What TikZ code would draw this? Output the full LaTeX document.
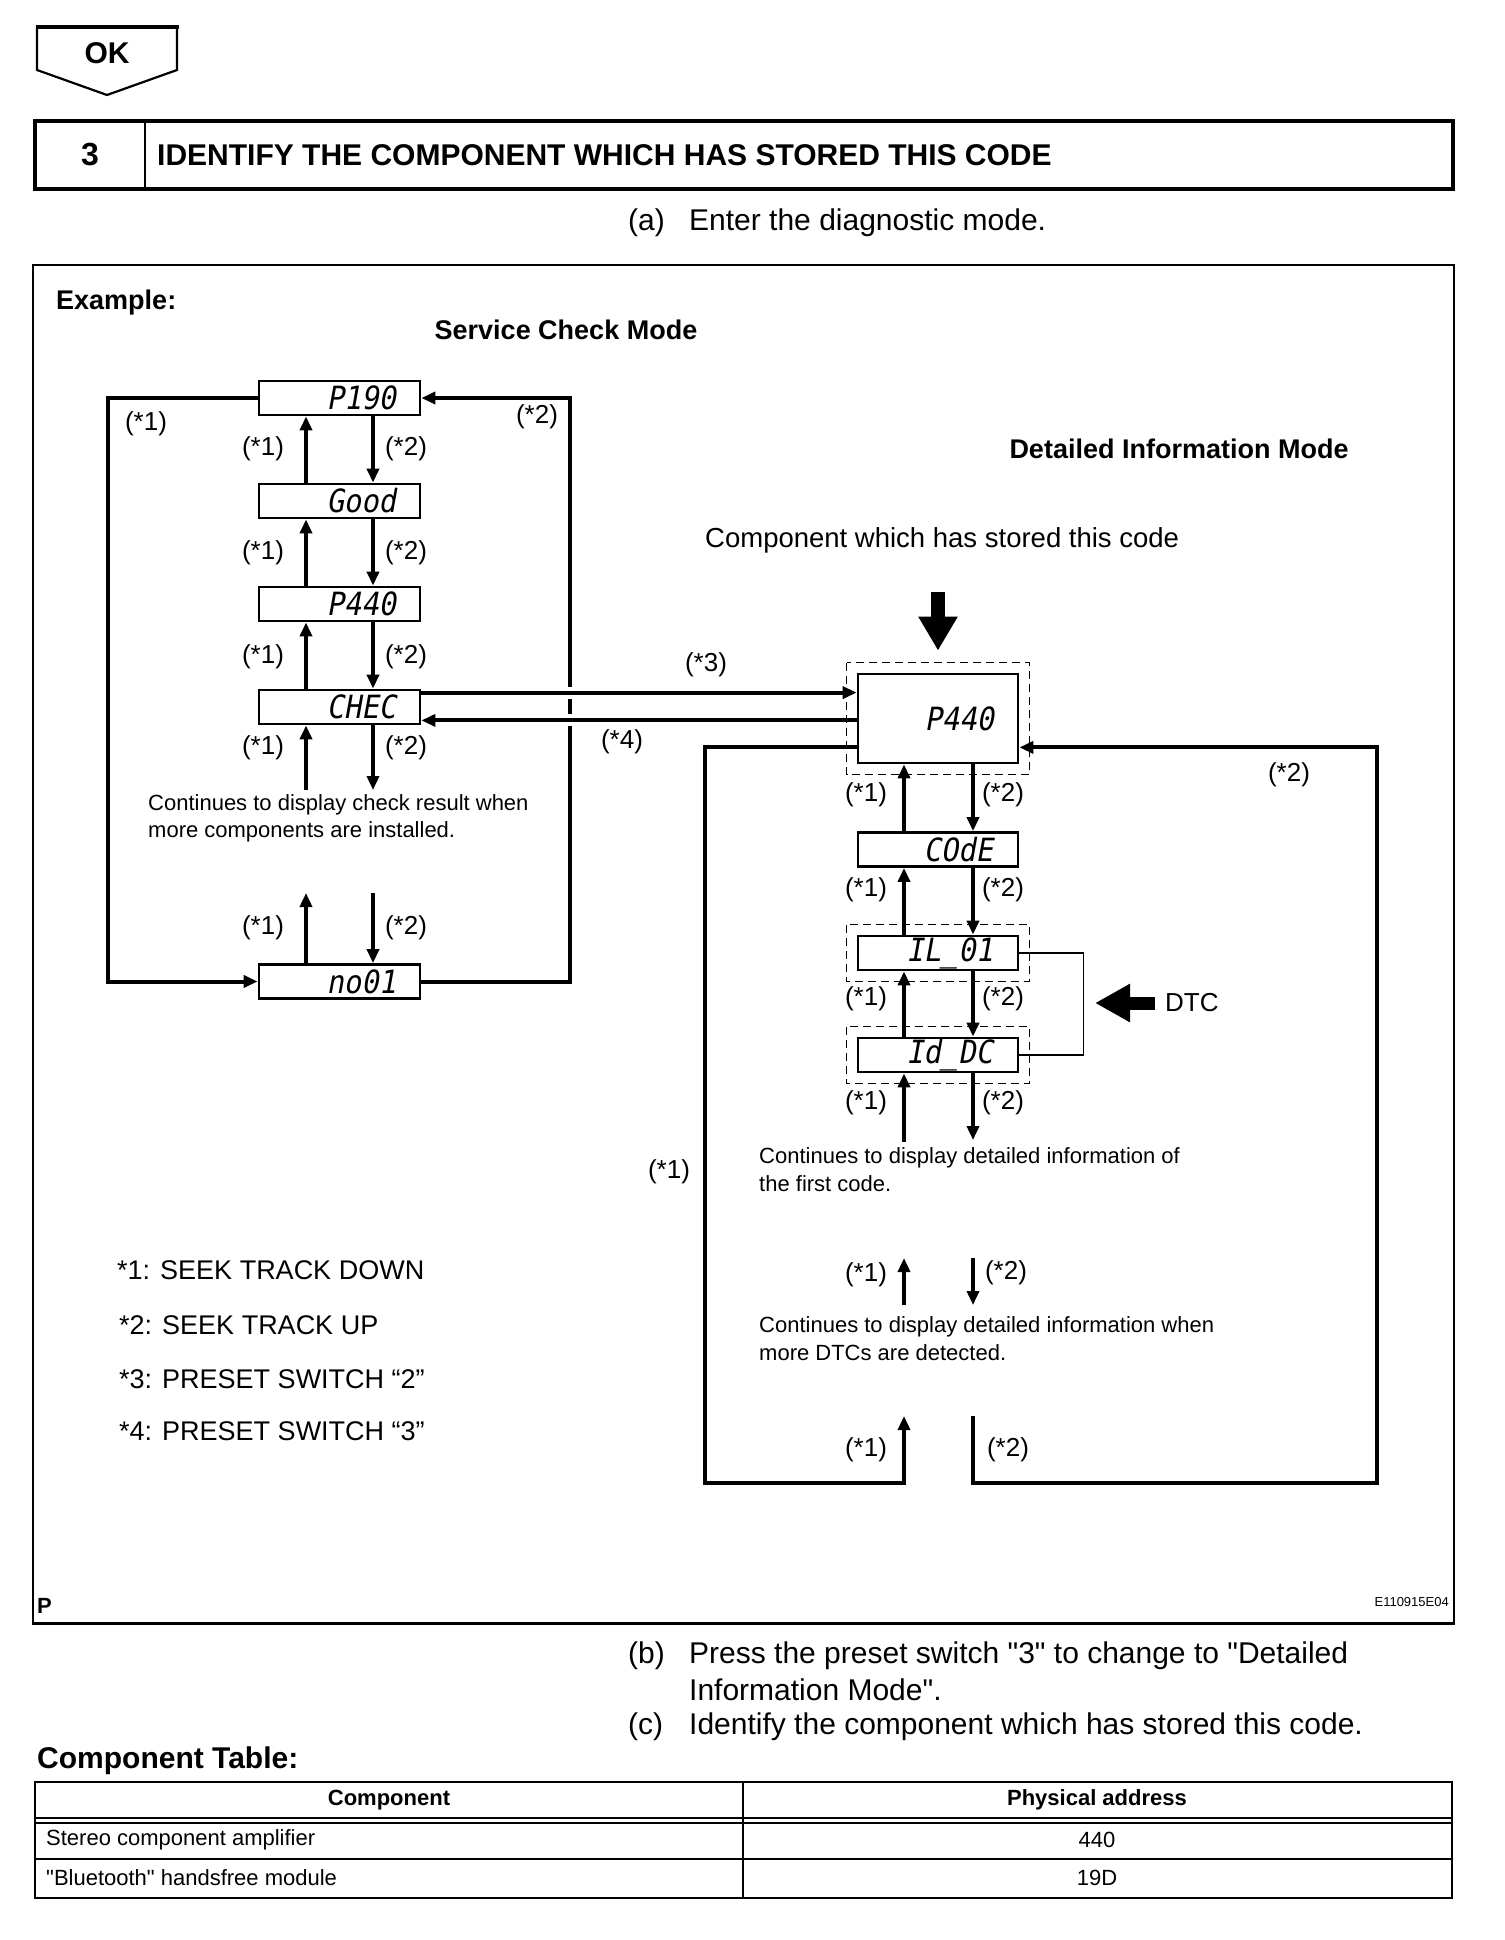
\documentclass[tikz,border=0pt]{standalone}
\usepackage{fontspec}
\setmainfont{Liberation Sans}
\newfontfamily\qfont{Liberation Sans}
\newfontfamily\lcdfont{DejaVu Sans Mono}[FakeSlant=0.18,FakeStretch=0.9]
\usetikzlibrary{arrows.meta,calc}
\newcommand\fsz[1]{\fontsize{#1pt}{#1pt}\selectfont}
\newcommand\dq{{\qfont\symbol{34}}}
\begin{document}
\begin{tikzpicture}[x=1pt,y=-1pt,
  lcdbox/.style={draw, line width=2.8pt, minimum height=34pt, inner ysep=0pt, inner xsep=24pt, text width=113pt, align=right, font=\lcdfont\fsz{32}},
  rbox/.style={lcdbox, inner xsep=25pt, text width=110pt},
  bigbox/.style={lcdbox, minimum height=89pt, text width=112pt},
  conn/.style={line width=4pt, line join=miter},
  arr/.style={conn, -{Triangle[length=14pt,width=12pt]}},
  dashbox/.style={draw, line width=1.6pt, dash pattern=on 8pt off 5pt},
  lbl/.style={inner sep=0pt, font=\fsz{26}},
  txt/.style={inner sep=0pt, anchor=west, font=\fsz{22}},
  big/.style={inner sep=0pt, anchor=west, font=\fsz{30}},
  head/.style={inner sep=0pt, font=\bfseries\fsz{27}},
  legend/.style={inner sep=0pt, anchor=west, font=\fsz{27}},
  tbl/.style={inner sep=0pt, font=\fsz{22}}
]
\useasboundingbox (0,0) rectangle (1504,1940);
\fill[white] (0,0) rectangle (1504,1940);

% ---- OK marker
\draw[line width=2.2pt, line join=miter] (37,27) -- (37,70) -- (107,95) -- (177,70) -- (177,27);
\draw[line width=3.5pt] (35.5,27) -- (178.5,27);
\node[inner sep=0pt, font=\bfseries\fsz{30}] (ok) at (107,53) {OK};

% ---- step header
\draw[line width=3.5pt] (35,121) rectangle (1453,189);
\draw[line width=2pt] (145,121) -- (145,189);
\node[inner sep=0pt, font=\bfseries\fsz{32}] (stepnum) at (90,155) {3};
\node[inner sep=0pt, anchor=west, font=\bfseries\fsz{30}] (title) at (157,155) {IDENTIFY THE COMPONENT WHICH HAS STORED THIS CODE};

\node[big] (a1) at (628,223) {(a)};
\node[big] (a2) at (689,223) {Enter the diagnostic mode.};

% ---- frame
\draw[line width=2pt] (33,265) rectangle (1454,1623);
\draw[line width=3pt] (32,1623) -- (1455,1623);

\node[head, anchor=west] (example) at (56,303) {Example:};
\node[head] (scm) at (566,330) {Service Check Mode};
\node[head] (dim) at (1179,449) {Detailed Information Mode};
\node[inner sep=0pt, anchor=west, font=\fsz{27.5}] (comp) at (705,540) {Component which has stored this code};

% ---- left column
\coordinate (lu) at (306,0);
\coordinate (ld) at (373,0);
\coordinate (lloop) at (108,0);
\coordinate (rloop) at (570,0);
\node[lcdbox] (p190) at (339.5,398) {P190};
\node[lcdbox] (good) at (339.5,501) {Good};
\node[lcdbox] (p440a) at (339.5,604) {P440};
\node[lcdbox] (chec) at (339.5,707) {CHEC};
\node[lcdbox] (no01) at (339.5,981.5) {no01};

\foreach \a/\b in {p190/good, good/p440a, p440a/chec}{
  \draw[arr] (lu |- \b.north) -- (lu |- \a.south);
  \draw[arr] (ld |- \a.south) -- (ld |- \b.north);
}
\coordinate (lc1) at (306,790);
\coordinate (lc2) at (373,790);
\draw[arr] (lc1) -- (lu |- chec.south);
\draw[arr] (ld |- chec.south) -- (lc2);
\coordinate (ln1) at (306,893);
\coordinate (ln2) at (373,893);
\draw[arr] (lu |- no01.north) -- (ln1);
\draw[arr] (ln2) -- (ld |- no01.north);

\draw[arr] (p190.west) -- (p190.west -| lloop) |- (no01.west);
\draw[arr] (no01.east) -- (no01.east -| rloop) |- (p190.east);

% ---- right column
\coordinate (ru) at (904,0);
\coordinate (rd) at (973,0);
\node[bigbox] (bigp) at (938,718.5) {P440};
\node[rbox] (code) at (938,849.5) {COdE};
\node[rbox] (il01) at (938,953) {IL\_01};
\node[rbox] (iddc) at (938,1055) {Id\_DC};

\draw[dashbox] ($(bigp.north west)+(-10,-10)$) rectangle ($(bigp.south east)+(10,10)$);
\draw[dashbox] ($(il01.north west)+(-10,-10)$) rectangle ($(il01.south east)+(10,10)$);
\draw[dashbox] ($(iddc.north west)+(-10,-10)$) rectangle ($(iddc.south east)+(10,10)$);

% links between modes
\coordinate (c3a) at ([yshift=-4pt]chec.north east);
\coordinate (c4a) at ([yshift=5pt]chec.south east);
\fill[white] ($(c3a -| rloop)+(-6,-6)$) rectangle ($(c3a -| rloop)+(6,6)$);
\fill[white] ($(c4a -| rloop)+(-6,-6)$) rectangle ($(c4a -| rloop)+(6,6)$);
\draw[arr] (c3a) -- (c3a -| bigp.west);
\draw[arr] (c4a -| bigp.west) -- (c4a);

\foreach \a/\b in {bigp/code, code/il01, il01/iddc}{
  \draw[arr] (ru |- \b.north) -- (ru |- \a.south);
  \draw[arr] (rd |- \a.south) -- (rd |- \b.north);
}
\coordinate (f1) at (904,1142);
\coordinate (f2) at (973,1140);
\draw[arr] (f1) -- (ru |- iddc.south);
\draw[arr] (rd |- iddc.south) -- (f2);
\coordinate (m1a) at (904,1305);
\coordinate (m1b) at (904,1258);
\coordinate (m2a) at (973,1258);
\coordinate (m2b) at (973,1305);
\draw[arr] (m1a) -- (m1b);
\draw[arr] (m2a) -- (m2b);

\coordinate (lp) at ([yshift=17pt]bigp.south west);
\coordinate (blc) at (705,1483);
\coordinate (brc) at (1377,1483);
\coordinate (b1) at (904,1416);
\coordinate (b2) at (973,1416);
\draw[arr] (lp) -| (blc) -| (b1);
\draw[arr] (b2) |- (brc) |- (lp -| bigp.east);

% big pointer arrows
\draw[line width=14pt, -{Triangle[length=34pt,width=37pt]}] ([yshift=81pt]bigp.north) -- ([yshift=22pt]bigp.north);
\node[inner sep=0pt, anchor=west, font=\fsz{26}] (dtc) at (1165,1003) {DTC};
\draw[line width=1.5pt] (il01.east) -- ++(64,0) |- (iddc.east);
\draw[line width=13pt, -{Triangle[length=35pt,width=36pt]}] ([xshift=-10pt]dtc.west) -- ([xshift=-70pt]dtc.west);

% ---- labels, left
\node[lbl] (l1a) at (146,424) {(*1)};
\node[lbl] (l2a) at (537,417) {(*2)};
\foreach \y [count=\i] in {449,553,657,748,928}{
  \node[lbl] (ls1\i) at (263,\y) {(*1)};
  \node[lbl] (ls2\i) at (406,\y) {(*2)};
}
\node[txt] (t1) at (148,805) {Continues to display check result when};
\node[txt] (t2) at (148,832) {more components are installed.};

% ---- labels, right
\node[lbl] (l3) at (706,665) {(*3)};
\node[lbl] (l4) at (622,742) {(*4)};
\node[lbl] (l2r) at (1289,775) {(*2)};
\node[lbl] (l1r) at (669,1172) {(*1)};
\foreach \y [count=\i] in {795,890,999,1103}{
  \node[lbl] (rs1\i) at (866,\y) {(*1)};
  \node[lbl] (rs2\i) at (1003,\y) {(*2)};
}
\node[lbl] (rm1) at (866,1275) {(*1)};
\node[lbl] (rm2) at (1006,1273) {(*2)};
\node[lbl] (rb1) at (866,1450) {(*1)};
\node[lbl] (rb2) at (1008,1450) {(*2)};
\node[txt] (t3) at (759,1158) {Continues to display detailed information of};
\node[txt] (t4) at (759,1184) {the first code.};
\node[txt] (t5) at (759,1327) {Continues to display detailed information when};
\node[txt] (t6) at (759,1353) {more DTCs are detected.};

% ---- legend
\node[legend] (g1) at (117,1270) {*1: SEEK TRACK DOWN};
\node[legend] (g2) at (119,1325) {*2: SEEK TRACK UP};
\node[legend] (g3) at (119,1379) {*3: PRESET SWITCH “2”};
\node[legend] (g4) at (119,1431) {*4: PRESET SWITCH “3”};

\node[inner sep=0pt, anchor=west, font=\bfseries\fsz{22}] (pmark) at (37,1606) {P};
\node[inner sep=0pt, anchor=east, font=\fsz{13}] (code id) at (1449,1602) {E110915E04};

% ---- steps b, c
\node[big] (b0) at (628,1656) {(b)};
\node[big] (bt) at (689,1656) {Press the preset switch \dq3\dq{} to change to \dq Detailed};
\node[big] (bt2) at (689,1690) {Information Mode\dq.};
\node[big] (c0) at (628,1727) {(c)};
\node[big] (ct) at (689,1727) {Identify the component which has stored this code.};

% ---- component table
\node[inner sep=0pt, anchor=west, font=\bfseries\fsz{30}] (ctab) at (37,1761) {Component Table:};
\draw[line width=2pt] (35,1818) -- (1452,1818);
\draw[line width=2pt] (35,1822.5) -- (1452,1822.5);
\draw[line width=2pt] (35,1859) -- (1452,1859);
\draw[line width=2pt] (743,1782) -- (743,1898);
\draw[line width=2.8pt] (35,1782) rectangle (1452,1898);
\node[tbl, font=\bfseries\fsz{22}] (h1) at (389,1800) {Component};
\node[tbl, font=\bfseries\fsz{22}] (h2) at (1097,1800) {Physical address};
\node[tbl, anchor=west] (r1a) at (46,1840) {Stereo component amplifier};
\node[tbl] (r1b) at (1097,1840) {440};
\node[tbl, anchor=west] (r2a) at (46,1878) {\dq Bluetooth\dq{} handsfree module};
\node[tbl] (r2b) at (1097,1878) {19D};
\end{tikzpicture}
\end{document}
